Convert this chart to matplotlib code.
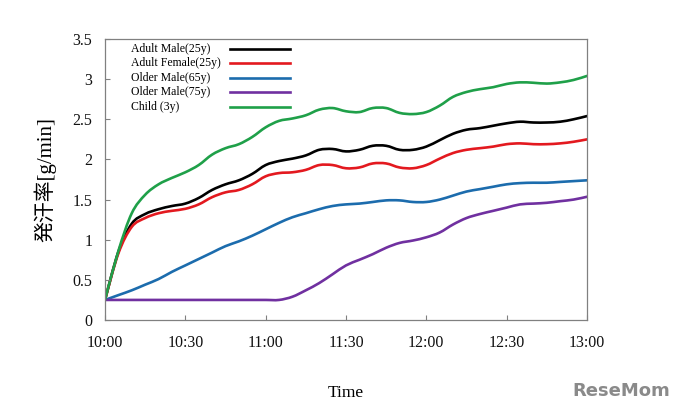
import numpy as np
import matplotlib
matplotlib.use("Agg")
from matplotlib import pyplot as plt
from matplotlib.path import Path
from matplotlib.patches import PathPatch

# minutes after 10:00, read every 5 minutes
minutes = list(range(0, 185, 5))
tick_minutes = [0, 30, 60, 90, 120, 150, 180]
tick_labels = ["10:00", "10:30", "11:00", "11:30", "12:00", "12:30", "13:00"]

adult_male = [0.25, 0.85, 1.20, 1.32, 1.38, 1.42, 1.45, 1.52, 1.62, 1.69, 1.74, 1.82,
              1.93, 1.98, 2.01, 2.05, 2.12, 2.13, 2.10, 2.12, 2.17, 2.17, 2.12, 2.12,
              2.16, 2.24, 2.32, 2.37, 2.39, 2.42, 2.45, 2.47, 2.46, 2.46, 2.47, 2.50, 2.54]
adult_female = [0.25, 0.83, 1.16, 1.27, 1.33, 1.36, 1.385, 1.44, 1.53, 1.59, 1.62, 1.69,
                1.79, 1.83, 1.84, 1.87, 1.93, 1.93, 1.89, 1.90, 1.95, 1.95, 1.90, 1.89,
                1.93, 2.01, 2.08, 2.12, 2.14, 2.16, 2.19, 2.20, 2.19, 2.19, 2.20, 2.22, 2.25]
older_65 = [0.25, 0.31, 0.37, 0.44, 0.51, 0.60, 0.68, 0.76, 0.84, 0.92, 0.98, 1.05,
            1.13, 1.21, 1.28, 1.33, 1.38, 1.42, 1.44, 1.45, 1.47, 1.49, 1.49, 1.47,
            1.47, 1.50, 1.55, 1.60, 1.63, 1.66, 1.69, 1.705, 1.71, 1.71, 1.72, 1.73, 1.74]
older_75 = [0.25, 0.25, 0.25, 0.25, 0.25, 0.25, 0.25, 0.25, 0.25, 0.25, 0.25, 0.25,
            0.25, 0.25, 0.29, 0.37, 0.46, 0.57, 0.68, 0.75, 0.82, 0.90, 0.96, 0.99,
            1.03, 1.09, 1.19, 1.27, 1.32, 1.36, 1.40, 1.44, 1.45, 1.46, 1.48, 1.50, 1.535]
child = [0.25, 0.86, 1.33, 1.56, 1.69, 1.77, 1.84, 1.93, 2.06, 2.14, 2.19, 2.28,
         2.40, 2.48, 2.51, 2.55, 2.62, 2.64, 2.60, 2.59, 2.64, 2.64, 2.58, 2.565,
         2.59, 2.67, 2.78, 2.84, 2.875, 2.90, 2.94, 2.96, 2.955, 2.945, 2.96, 2.99, 3.04]

series = [
    ("Adult Male(25y)", adult_male, "#000000"),
    ("Adult Female(25y)", adult_female, "#e3191f"),
    ("Older Male(65y)", older_65, "#1c6cad"),
    ("Older Male(75y)", older_75, "#7030a0"),
    ("Child (3y)", child, "#1fa049"),
]


# smoothed line like a spreadsheet "smooth line" (Catmull-Rom as cubic Bezier)
def smooth_path(x, y):
    p = np.column_stack([x, y]).astype(float)
    n = len(p)
    verts = [p[0]]
    codes = [Path.MOVETO]
    for i in range(n - 1):
        p0 = p[max(i - 1, 0)]
        p1 = p[i]
        p2 = p[i + 1]
        p3 = p[min(i + 2, n - 1)]
        c1 = p1 + (p2 - p0) / 6.0
        c2 = p2 - (p3 - p1) / 6.0
        verts += [c1, c2, p2]
        codes += [Path.CURVE4] * 3
    return Path(verts, codes)


plt.rcParams["font.family"] = ["Liberation Serif", "Noto Sans CJK JP", "DejaVu Sans"]

fig = plt.figure(figsize=(6.8, 4.15), dpi=100)
ax = fig.add_axes([0.1544, 0.2289, 0.7088, 0.6771])

for name, vals, col in series:
    patch = PathPatch(smooth_path(minutes, vals), fill=False, edgecolor=col,
                      lw=1.9, capstyle="round", joinstyle="round")
    ax.add_patch(patch)

ax.set_xlim(0, 180)
ax.set_ylim(0, 3.5)
ax.set_xticks(tick_minutes)
ax.set_xticklabels(tick_labels)
ax.set_yticks(np.arange(0, 3.51, 0.5))
ax.set_yticklabels(["0", "0.5", "1", "1.5", "2", "2.5", "3", "3.5"])
ax.tick_params(direction="in", length=3.5, width=0.8, color="#808080",
               labelsize=11.5, labelcolor="#111111")
ax.tick_params(axis="y", pad=9)
ax.tick_params(axis="x", pad=11)
for sp in ax.spines.values():
    sp.set_color("#808080")
    sp.set_linewidth(0.9)

ax.set_xlabel("Time", fontsize=12.5, labelpad=24)
ax.set_ylabel("発汗率[g/min]", fontsize=15, labelpad=12)

# legend: labels left, sample lines to the right
for i, (name, vals, col) in enumerate(series):
    yy = 0.9644 - i * 0.0513
    ax.text(0.054, yy, name, transform=ax.transAxes, fontsize=8.5,
            va="center", ha="left")
    ax.plot([0.259, 0.384], [yy, yy], transform=ax.transAxes, color=col,
            lw=1.9, clip_on=False)

fig.text(0.985, 0.035, "ReseMom", ha="right", va="bottom", fontsize=13,
         fontweight="bold", color="#8a8a8a", family="DejaVu Sans")

fig.savefig("out.png", dpi=100)
